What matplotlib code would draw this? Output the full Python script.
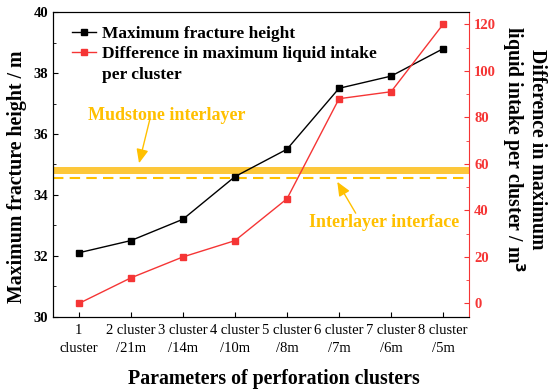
import matplotlib
matplotlib.use("Agg")
import matplotlib.pyplot as plt
from matplotlib.ticker import MultipleLocator
from matplotlib.lines import Line2D

plt.rcParams['font.family'] = ['Liberation Serif', 'DejaVu Serif']

categories = ["1\ncluster", "2 cluster\n/21m", "3 cluster\n/14m", "4 cluster\n/10m",
              "5 cluster\n/8m", "6 cluster\n/7m", "7 cluster\n/6m", "8 cluster\n/5m"]
fracture_height = [32.1, 32.5, 33.2, 34.6, 35.5, 37.5, 37.9, 38.8]
liquid_diff = [0, 11, 20, 27, 45, 88, 91, 120]
mudstone_band = (34.68, 34.93)
interface_level = 34.55

RED = '#F53535'
GOLD = '#FFC000'
BAND = '#FDC73A'

fig = plt.figure(figsize=(5.5, 3.92), dpi=100)
ax = fig.add_axes([0.096, 0.192, 0.757, 0.777])
x = list(range(1, len(categories) + 1))

ax.axhspan(*mudstone_band, color=BAND, lw=0, zorder=1)
ax.axhline(interface_level, color=GOLD, ls=(0, (5, 3)), lw=1.5, zorder=1)

l1, = ax.plot(x, fracture_height, color='black', marker='s', ms=4.5, lw=1, zorder=3,
              label='Maximum fracture height')
ax2 = ax.twinx()
l2, = ax2.plot(x, liquid_diff, color=RED, marker='s', ms=4.5, lw=1, zorder=3,
               label='Difference in maximum liquid intake')
l3 = Line2D([], [], color='none', label='per cluster')

ax.set_xlim(0.5, 8.5)
ax.set_ylim(30, 40)
ax2.set_ylim(-5.7, 125.2)
ax.set_xticks(x)
ax.set_xticklabels(categories, fontsize=10.5)
for lab in ax.get_xticklabels():
    lab.set_linespacing(1.45)
ax.yaxis.set_major_locator(MultipleLocator(2))
ax.yaxis.set_minor_locator(MultipleLocator(1))
ax2.yaxis.set_major_locator(MultipleLocator(20))
ax2.yaxis.set_minor_locator(MultipleLocator(10))

for lab in ax.get_yticklabels():
    lab.set_fontweight('bold')
ax.tick_params(axis='y', which='both', direction='in', labelsize=10.5)
ax.tick_params(axis='x', direction='in', labelsize=10.5, pad=5.5)
ax2.tick_params(axis='y', which='both', direction='in', colors=RED, labelsize=10.5)
for lab in ax2.get_yticklabels():
    lab.set_fontweight('bold')
ax2.spines['right'].set_color(RED)
ax.spines['right'].set_visible(False)

ax.set_ylabel('Maximum fracture height / m', fontsize=14.3, fontweight='bold')
ax.yaxis.set_label_coords(-0.063, 0.46)
ax.set_xlabel('Parameters of perforation clusters', fontsize=14.3, fontweight='bold')
ax.xaxis.set_label_coords(0.532, -0.172)
ax2.set_ylabel('Difference in maximum\nliquid intake per cluster / m$^\\mathbf{3}$',
               fontsize=14.3, fontweight='bold', rotation=270, linespacing=1.0,
               va='center')
ax2.yaxis.set_label_coords(1.13, 0.55)

ax.legend(handles=[l1, l2, l3], loc='upper left', frameon=False,
          prop={'weight': 'bold', 'size': 12.5}, handlelength=1.4,
          handletextpad=0.35, borderaxespad=0.3, labelspacing=0.25,
          bbox_to_anchor=(0.017, 0.995))

arrow = dict(arrowstyle='-|>,head_length=0.7,head_width=0.3', color=GOLD, lw=1,
             mutation_scale=12, shrinkA=0, shrinkB=0)
ax.text(2.68, 36.62, 'Mudstone interlayer', color=GOLD, fontsize=13,
        fontweight='bold', ha='center', va='center')
ax.annotate('', xy=(2.157, 35.04), xytext=(2.37, 36.52), arrowprops=arrow)
ax.text(6.86, 33.11, 'Interlayer interface', color=GOLD, fontsize=13,
        fontweight='bold', ha='center', va='center')
ax.annotate('', xy=(5.966, 34.43), xytext=(6.32, 33.40), arrowprops=arrow)

fig.savefig('out.png', dpi=100)
